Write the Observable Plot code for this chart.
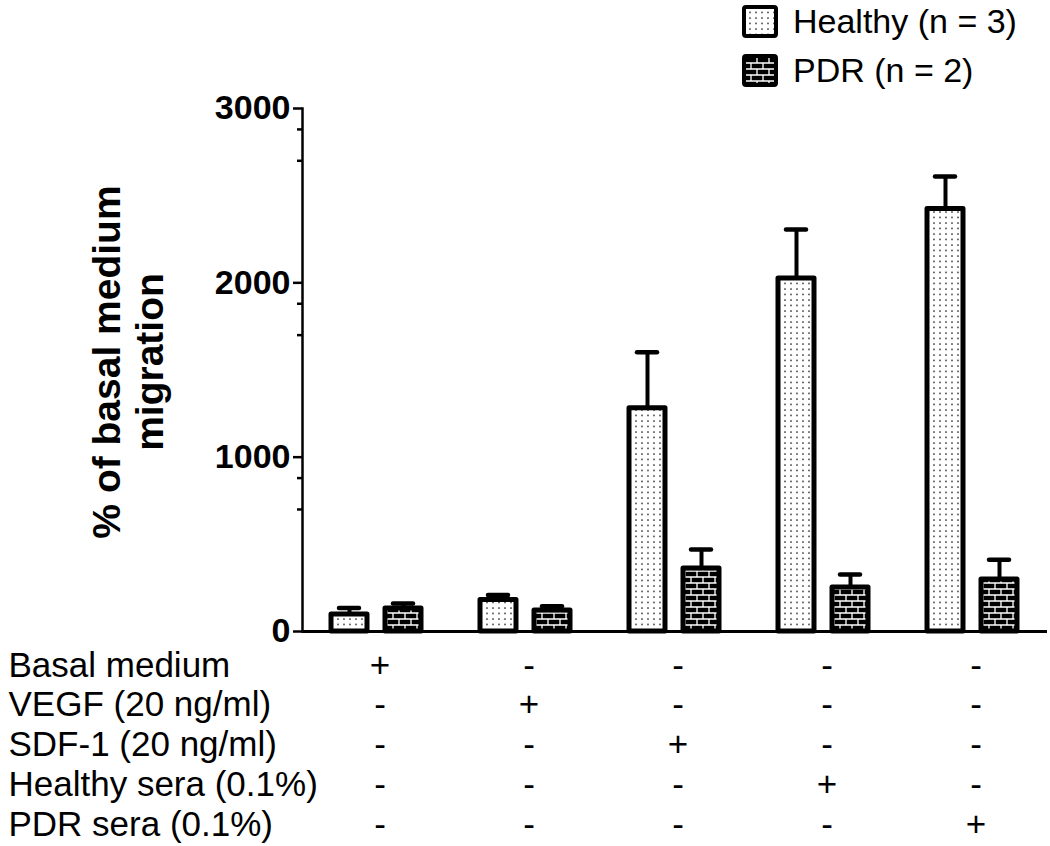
<!DOCTYPE html>
<html><head><meta charset="utf-8">
<script src="https://cdn.jsdelivr.net/npm/d3@7"></script>
<script src="https://cdn.jsdelivr.net/npm/@observablehq/plot@0.6"></script>
<style>
body{margin:0;background:#fff;width:1050px;height:846px;overflow:hidden;font-family:"Liberation Sans",Arial,sans-serif;}
#legend{position:relative;height:100px;}
.item{position:absolute;left:742px;display:flex;align-items:center;height:38px;line-height:38px;font-size:34px;color:#000;white-space:nowrap;}
.item svg{margin-right:15px;flex:none}
</style></head><body>
<svg width="0" height="0" style="position:absolute">
<defs>
<pattern id="dots" patternUnits="userSpaceOnUse" width="6" height="5.5">
<rect width="6" height="5.5" fill="#fff"/>
<circle cx="2" cy="2" r="0.85" fill="#222"/>
</pattern>
<pattern id="bricks" patternUnits="userSpaceOnUse" width="12" height="12">
<rect width="12" height="12" fill="#000"/>
<path d="M0 3H12M0 9H12M3 3V9M9 9V12M9 0V3" stroke="#fff" stroke-width="1.3" fill="none"/>
</pattern>
</defs>
</svg>
<div id="legend"></div>
<div id="chart"></div>
<script>
// ---- data ----
const groups = ["Basal medium", "VEGF (20 ng/ml)", "SDF-1 (20 ng/ml)", "Healthy sera (0.1%)", "PDR sera (0.1%)"];
const seriesNames = ["Healthy (n = 3)", "PDR (n = 2)"];
const seriesKeys = ["Healthy", "PDR"];
const healthyMean = [97, 180, 1280, 2025, 2424];
const healthyErr = [38, 30, 322, 281, 186];
const pdrMean = [132, 120, 362, 252, 298];
const pdrErr = [28, 25, 108, 75, 113];
const yTicks = [0, 1000, 2000, 3000];
const yMinorTicks = [700, 880, 1700, 1880, 2700, 2880];
const yLabel = "% of basal medium\nmigration";
const conditionLabels = ["Basal medium", "VEGF (20 ng/ml)", "SDF-1 (20 ng/ml)", "Healthy sera (0.1%)", "PDR sera (0.1%)"];
const signRows = [
  ["+", "-", "-", "-", "-"],
  ["-", "+", "-", "-", "-"],
  ["-", "-", "+", "-", "-"],
  ["-", "-", "-", "+", "-"],
  ["-", "-", "-", "-", "+"]
];

const fills = {Healthy: "url(#dots)", PDR: "url(#bricks)"};
const data = groups.flatMap((g, i) => [
  {group: g, series: "Healthy", value: healthyMean[i], err: healthyErr[i]},
  {group: g, series: "PDR", value: pdrMean[i], err: pdrErr[i]}
]);

// ---- legend ----
const legend = document.getElementById("legend");
seriesKeys.forEach((k, i) => {
  const item = document.createElement("div");
  item.className = "item";
  item.style.top = (i === 0 ? 2 : 51) + "px";
  item.innerHTML = `<svg width="36" height="33"><rect x="2" y="2" width="32" height="29" rx="2" fill="${fills[k]}" stroke="#000" stroke-width="4"/></svg><span>${seriesNames[i]}</span>`;
  legend.appendChild(item);
});

// ---- chart ----
const font = "'Liberation Sans', Arial, sans-serif";
const rowDy = r => 45 + 39.8 * r;
const marks = [
  Plot.ruleX(data, {fx: "group", x: "series", y1: "value", y2: d => d.value + d.err, stroke: "#000", strokeWidth: 4}),
  Plot.tickY(data, {fx: "group", x: "series", y: d => d.value + d.err, stroke: "#000", strokeWidth: 4.5, strokeLinecap: "round", insetLeft: 8, insetRight: 8}),
  Plot.barY(data.filter(d => d.series === "Healthy"), {fx: "group", x: "series", y: "value", fill: fills.Healthy, stroke: "#000", strokeWidth: 5, strokeLinejoin: "round"}),
  Plot.barY(data.filter(d => d.series === "PDR"), {fx: "group", x: "series", y: "value", fill: fills.PDR, stroke: "#000", strokeWidth: 5, strokeLinejoin: "round"}),
  Plot.ruleY([0], {stroke: "#000", strokeWidth: 3}),
  Plot.frame({anchor: "left", facetAnchor: "left", stroke: "#000", strokeWidth: 2.5}),
  Plot.axisY(yTicks, {tickSize: 9, tickPadding: 3, tickFormat: d => String(d), fontWeight: "bold", fontSize: 34, strokeWidth: 2.5, label: null}),
  Plot.axisY(yMinorTicks, {tickSize: 5, tickFormat: () => "", strokeWidth: 2.5, label: null}),
  Plot.text([yLabel], {fx: () => groups[0], text: d => d, frameAnchor: "left", textAnchor: "middle", dx: -175, dy: -8, rotate: -90, lineAnchor: "middle", lineHeight: 1.1, fontWeight: "bold", fontSize: 39, fill: "#000"})
];
conditionLabels.forEach((lab, r) => {
  marks.push(Plot.text([lab], {fx: () => groups[0], text: d => d, frameAnchor: "bottom-left", textAnchor: "start", dx: -294, dy: rowDy(r), fontSize: 35, fill: "#000"}));
  marks.push(Plot.text(groups, {fx: d => d, text: (d, i) => signRows[r][i], frameAnchor: "bottom", textAnchor: "middle", dx: 3, dy: rowDy(r), fontSize: 35, fill: "#000"}));
});

const chart = Plot.plot({
  width: 1050,
  height: 746,
  marginLeft: 302,
  marginRight: 3,
  marginTop: 8,
  marginBottom: 215,
  style: {fontFamily: font, fontSize: "33px", color: "#000", background: "transparent", overflow: "visible"},
  fx: {domain: groups, paddingInner: 0, paddingOuter: 0, axis: null, label: null},
  x: {domain: seriesKeys, paddingInner: 0.333, paddingOuter: 0.546, align: 0.5, axis: null, label: null},
  y: {domain: [0, 3000], axis: null},
  marks
});
document.getElementById("chart").appendChild(chart);
</script>
</body></html>
